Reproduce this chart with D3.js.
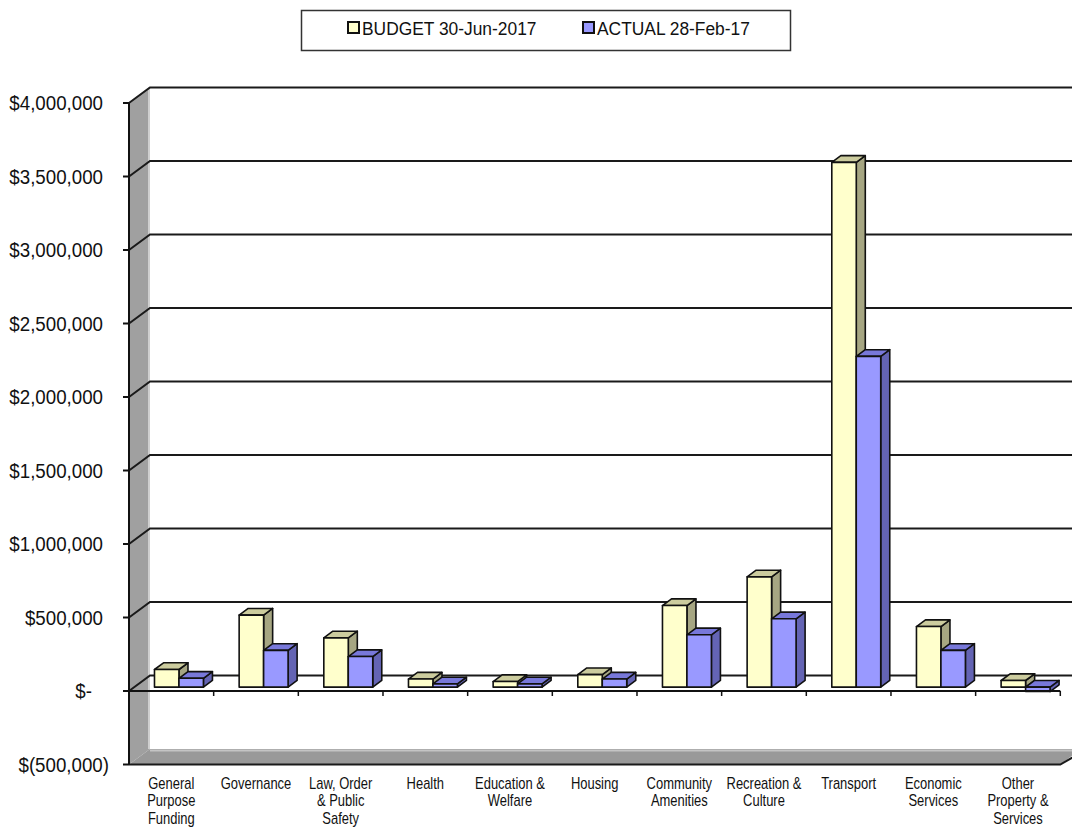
<!DOCTYPE html>
<html>
<head>
<meta charset="utf-8">
<script src="https://cdn.jsdelivr.net/npm/d3@7"></script>
<style>
  html, body { margin: 0; padding: 0; background: #ffffff; }
  svg { display: block; }
  text { font-family: "Liberation Sans", Arial, sans-serif; fill: #111; }
</style>
</head>
<body>
<svg id="chart" width="1072" height="830"></svg>
<script>
// Expenditure by programme: full-year budget vs year-to-date actual
const categories = [
  ["General", "Purpose", "Funding"],
  ["Governance"],
  ["Law, Order", "& Public", "Safety"],
  ["Health"],
  ["Education &", "Welfare"],
  ["Housing"],
  ["Community", "Amenities"],
  ["Recreation &", "Culture"],
  ["Transport"],
  ["Economic", "Services"],
  ["Other", "Property &", "Services"]
];
const budget = [120000, 490000, 335000, 55000, 38000, 85000, 555000, 750000, 3570000, 412000, 45000];
const actual = [60000, 250000, 208000, 22000, 22000, 55000, 356000, 465000, 2250000, 250000, -30000];
const seriesNames = ["BUDGET 30-Jun-2017", "ACTUAL 28-Feb-17"];
const tickValues = [-500000, 0, 500000, 1000000, 1500000, 2000000, 2500000, 3000000, 3500000, 4000000];
const tickLabels = ["$(500,000)", "$-", "$500,000", "$1,000,000", "$1,500,000", "$2,000,000", "$2,500,000", "$3,000,000", "$3,500,000", "$4,000,000"];

const svg = d3.select("#chart");

// condensed text: draw at origin, then place and narrow horizontally
const narrow = (sel, px, py, sx) => sel.attr("transform", `translate(${px},${py}) scale(${sx},1)`);

// oblique projection: front plane + depth t in [0,1]
const DX = 21, DY = -15.5;
const y = d3.scaleLinear().domain([-500000, 4000000]).range([764.5, 103]);
const x = d3.scaleBand().domain(d3.range(categories.length)).range([129, 1060.3]).padding(0);
const P = (px, v, t) => [px + t * DX, y(v) + t * DY];
const poly = pts => "M" + pts.map(p => p.join(",")).join("L") + "Z";

const x0 = x.range()[0], x1 = x.range()[1];
const vMin = y.domain()[0], vMax = y.domain()[1];
const xRight = x1 + DX + 40;

const gWall = svg.append("g");
// left side wall
gWall.append("path")
  .attr("d", poly([P(x0, vMin, 0), P(x0, vMax, 0), P(x0, vMax, 1), P(x0, vMin, 1)]))
  .attr("fill", "#a0a0a0");
// floor
gWall.append("path")
  .attr("d", poly([P(x0, vMin, 0), P(x1, vMin, 0), P(x1, vMin, 1), [xRight, y(vMin) + DY], P(x0, vMin, 1)]))
  .attr("fill", "#999999");
// light edges where wall and floor meet the back
gWall.append("path")
  .attr("d", "M" + P(x0, vMax, 0) + "L" + P(x0, vMax, 1))
  .attr("stroke", "#c8c8c8").attr("stroke-width", 2).attr("fill", "none");
gWall.append("path")
  .attr("d", "M" + [P(x0, vMax, 1)[0] - 1, P(x0, vMax, 1)[1]] + "L" + [P(x0, vMin, 1)[0] - 1, P(x0, vMin, 1)[1]])
  .attr("stroke", "#cfcfcf").attr("stroke-width", 2).attr("fill", "none");
gWall.append("path")
  .attr("d", "M" + [P(x0, vMin, 1)[0], P(x0, vMin, 1)[1] + 1.5] + "L" + [xRight, y(vMin) + DY + 1.5])
  .attr("stroke", "#c4c4c4").attr("stroke-width", 2).attr("fill", "none");

// gridlines: diagonal on side wall + horizontal on back wall
const gGrid = svg.append("g").attr("stroke", "#1a1a1a").attr("stroke-width", 2).attr("fill", "none");
tickValues.forEach(v => {
  if (v === vMin) return;
  const a = P(x0, v, 0), b = P(x0, v, 1);
  gGrid.append("path").attr("d", "M" + a + "L" + b + "L" + [xRight, b[1]]);
});
// floor front and right edges
gGrid.append("path")
  .attr("d", "M" + P(x0, vMin, 0) + "L" + P(x1, vMin, 0) + "L" + [P(x1, vMin, 0)[0] + 40, P(x1, vMin, 0)[1] + DY * 40 / DX * 0.78]);

// bars
const T1 = 0.25, T2 = 0.68;
const bw = x.bandwidth();
const series = [
  { values: budget, off: 0.239, front: "#FFFFCC", top: "#CCCC9E", side: "#A6A682" },
  { values: actual, off: 0.528, front: "#9999FF", top: "#7878DA", side: "#6464B4" }
];
const gBars = svg.append("g").attr("stroke", "#111").attr("stroke-width", 1.6).attr("stroke-linejoin", "round");
categories.forEach((c, i) => {
  series.forEach(s => {
    const v = s.values[i];
    const hi = Math.max(v, 0), lo = Math.min(v, 0);
    const l = x(i) + s.off * bw, r = l + 0.289 * bw;
    const g = gBars.append("g");
    // right side face
    g.append("path").attr("fill", s.side)
      .attr("d", poly([P(r, lo, T1), P(r, hi, T1), P(r, hi, T2), P(r, lo, T2)]));
    // top face
    g.append("path").attr("fill", s.top)
      .attr("d", poly([P(l, hi, T1), P(r, hi, T1), P(r, hi, T2), P(l, hi, T2)]));
    // front face
    g.append("path").attr("fill", s.front)
      .attr("d", poly([P(l, lo, T1), P(r, lo, T1), P(r, hi, T1), P(l, hi, T1)]));
  });
});

// front axes
const gAxis = svg.append("g").attr("stroke", "#111").attr("stroke-width", 2).attr("fill", "none");
gAxis.append("path").attr("d", "M" + [x0, y(vMax)] + "L" + [x0, y(vMin)]);
gAxis.append("path").attr("d", "M" + [x0, y(0)] + "L" + [x1, y(0)]);
tickValues.forEach(v => gAxis.append("path").attr("d", "M" + [x0 - 6, y(v)] + "L" + [x0, y(v)]));
d3.range(categories.length + 1).forEach(k => {
  const px = x0 + k * bw;
  gAxis.append("path").attr("d", "M" + [px, y(0)] + "L" + [px, y(0) + 5]).attr("stroke-width", 1.5);
});

// y labels (accounting format alignment)
const gY = svg.append("g").attr("font-size", 19.5).attr("text-anchor", "end");
tickValues.forEach((v, i) => {
  const lbl = tickLabels[i];
  const xe = lbl.includes("(") ? 109 : (lbl === "$-" ? 92 : 103);
  narrow(gY.append("text").attr("dy", "0.36em").text(lbl), xe, y(v), 0.96);
});

// category labels
const gX = svg.append("g").attr("font-size", 16).attr("text-anchor", "middle");
categories.forEach((lines, i) => {
  const t = narrow(gX.append("text"), x(i) + bw / 2, 789, 0.81);
  lines.forEach((ln, k) => t.append("tspan").attr("x", 0).attr("dy", k ? 17.5 : 0).text(ln));
});

// legend
const gL = svg.append("g");
gL.append("rect").attr("x", 301.5).attr("y", 10.5).attr("width", 489).attr("height", 40)
  .attr("fill", "#fff").attr("stroke", "#333").attr("stroke-width", 1.5);
const legX = [348, 583];
seriesNames.forEach((name, i) => {
  gL.append("rect").attr("x", legX[i]).attr("y", 22).attr("width", 11).attr("height", 11)
    .attr("fill", series[i].front).attr("stroke", "#111").attr("stroke-width", 2);
  narrow(gL.append("text").attr("font-size", 18.5).text(name), legX[i] + 14, 34.5, 0.94);
});
</script>
</body>
</html>
